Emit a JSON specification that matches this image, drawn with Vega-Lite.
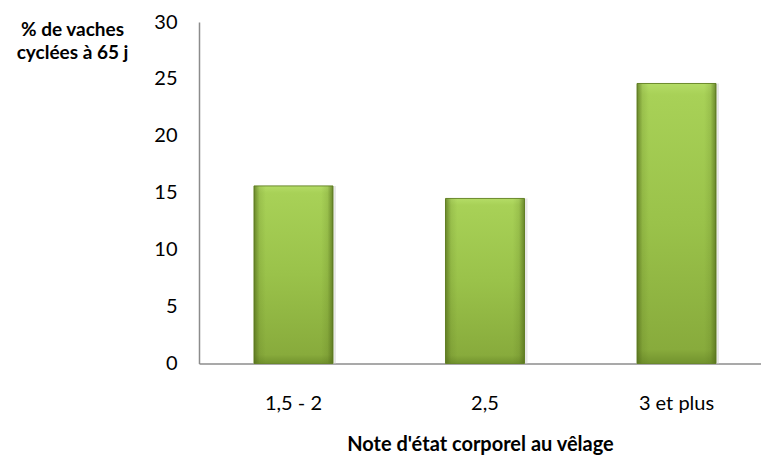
{
  "$schema": "https://vega.github.io/schema/vega-lite/v6.json",
  "width": 562,
  "height": 341.5,
  "padding": {"left": 199, "top": 22, "right": 0, "bottom": 91.5},
  "autosize": {"type": "none"},
  "background": "white",
  "config": {
    "view": {"stroke": null},
    "font": "Lato"
  },
  "data": {
    "values": [
      {"note": "1,5 - 2", "pct": 15.6},
      {"note": "2,5", "pct": 14.5},
      {"note": "3 et plus", "pct": 24.6}
    ]
  },
  "encoding": {
    "x": {
      "field": "note",
      "type": "nominal",
      "sort": null,
      "scale": {"paddingInner": 0.5875, "paddingOuter": 0.261, "align": 0.55},
      "axis": {
        "title": "Note d'état corporel au vêlage",
        "titleFont": "Lato",
        "titleFontSize": 20,
        "titleFontWeight": "bold",
        "titleColor": "#000000",
        "titleBaseline": "middle",
        "titleX": 281,
        "titleY": 81,
        "labelAngle": 0,
        "labelFont": "Lato",
        "labelFontSize": 20,
        "labelColor": "#000000",
        "labelBaseline": "middle",
        "labelPadding": 40,
        "ticks": false,
        "domainColor": "#8c8c8c",
        "domainWidth": 1.5
      }
    },
    "y": {
      "field": "pct",
      "type": "quantitative",
      "scale": {"domain": [0, 30], "nice": false},
      "axis": {
        "values": [0, 5, 10, 15, 20, 25, 30],
        "grid": false,
        "ticks": false,
        "labelFont": "Lato",
        "labelFontSize": 20,
        "labelColor": "#000000",
        "labelPadding": 22,
        "domainColor": "#8c8c8c",
        "domainWidth": 1.5,
        "title": ["% de vaches", "cyclées à 65 j"],
        "titleFont": "Lato",
        "titleFontSize": 19,
        "titleFontWeight": "bold",
        "titleColor": "#000000",
        "titleAngle": 0,
        "titleAlign": "center",
        "titleBaseline": "middle",
        "titleX": -127,
        "titleY": 7,
        "titleLineHeight": 23
      }
    }
  },
  "layer": [
    {
      "mark": {"type": "bar", "xOffset": 3, "color": "#d9d9d9", "opacity": 0.6}
    },
    {
      "mark": {
        "type": "bar",
        "stroke": "#6b8a2c",
        "strokeWidth": 1,
        "color": {
          "gradient": "linear",
          "x1": 0, "y1": 0, "x2": 0, "y2": 1,
          "stops": [
            {"offset": 0, "color": "#b4dc66"},
            {"offset": 0.04, "color": "#a8d157"},
            {"offset": 0.5, "color": "#9ac24a"},
            {"offset": 0.95, "color": "#88ab3c"},
            {"offset": 1, "color": "#72932e"}
          ]
        }
      }
    },
    {
      "mark": {
        "type": "bar",
        "color": {
          "gradient": "linear",
          "x1": 0, "y1": 0, "x2": 1, "y2": 0,
          "stops": [
            {"offset": 0, "color": "rgba(80,105,25,0.7)"},
            {"offset": 0.07, "color": "rgba(80,105,25,0.15)"},
            {"offset": 0.15, "color": "rgba(80,105,25,0)"},
            {"offset": 0.85, "color": "rgba(80,105,25,0)"},
            {"offset": 0.93, "color": "rgba(80,105,25,0.15)"},
            {"offset": 1, "color": "rgba(80,105,25,0.7)"}
          ]
        }
      }
    }
  ]
}
